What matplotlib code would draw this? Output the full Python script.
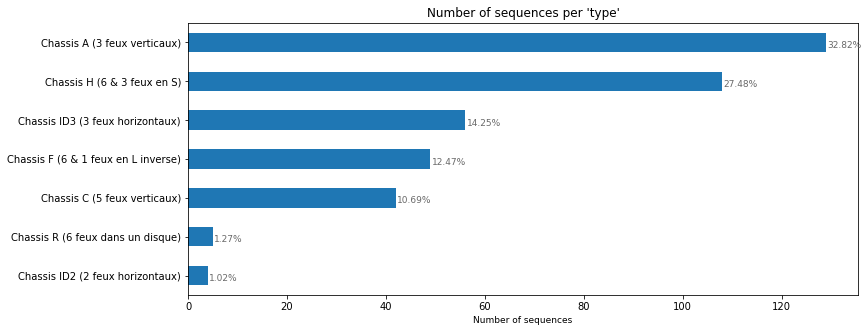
import matplotlib
matplotlib.use("Agg")
import matplotlib.pyplot as plt

categories = [
    "Chassis A (3 feux verticaux)",
    "Chassis H (6 & 3 feux en S)",
    "Chassis ID3 (3 feux horizontaux)",
    "Chassis F (6 & 1 feux en L inverse)",
    "Chassis C (5 feux verticaux)",
    "Chassis R (6 feux dans un disque)",
    "Chassis ID2 (2 feux horizontaux)",
]
counts = [129, 108, 56, 49, 42, 5, 4]

total = sum(counts)

fig = plt.figure(figsize=(868 / 72, 332 / 72), dpi=72)
ax = fig.add_axes([188 / 868, 1 - 295 / 332, (858 - 188) / 868, (295 - 23) / 332])

y = list(range(len(categories)))[::-1]
ax.barh(y, counts, height=0.5, color="#1f77b4")
ax.set_yticks(y)
ax.set_yticklabels(categories, fontsize=10)
ax.tick_params(axis="x", labelsize=10)
ax.set_xlim(0, max(counts) * 1.05)
ax.set_ylim(-0.5, len(categories) - 0.5)

for yi, c in zip(y, counts):
    ax.text(c + 0.3, yi - 0.08, f"{c / total * 100:.2f}%", va="center", ha="left",
            fontsize=9, color="dimgrey")

ax.set_title("Number of sequences per 'type'", fontsize=12)
ax.set_xlabel("Number of sequences", fontsize=9)

fig.savefig("out.png", dpi=72)
